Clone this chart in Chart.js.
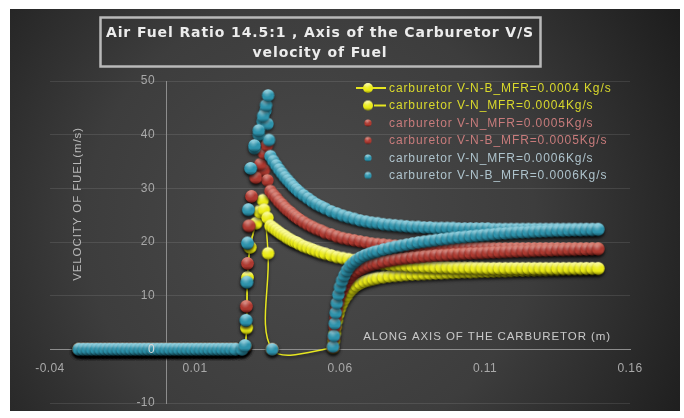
<!DOCTYPE html>
<html>
<head>
<meta charset="utf-8">
<script src="https://cdn.jsdelivr.net/npm/chart.js@4/dist/chart.umd.min.js"></script>
<style>
  html, body { margin: 0; padding: 0; background: #ffffff; }
  #wrap { width: 684px; height: 418px; }
</style>
</head>
<body>
<div id="wrap"><canvas id="chart" width="684" height="418"></canvas></div>
<script>
// ---- data: position along the carburetor axis (m) and fuel velocity (m/s) ----
const seriesNames = [
  'carburetor V-N-B_MFR=0.0004 Kg/s',
  'carburetor V-N_MFR=0.0004Kg/s',
  'carburetor V-N_MFR=0.0005Kg/s',
  'carburetor V-N-B_MFR=0.0005Kg/s',
  'carburetor V-N_MFR=0.0006Kg/s',
  'carburetor V-N-B_MFR=0.0006Kg/s'
];
const xTickLabels = ['-0.04', '0.01', '0.06', '0.11', '0.16'];
const yTickLabels = ['-10', '0', '10', '20', '30', '40', '50'];

// approach section upstream of the venturi (all runs at rest)
const approachX = [-0.030, -0.0285, -0.027, -0.0255, -0.024, -0.0225, -0.021, -0.0195, -0.018, -0.0165,
  -0.015, -0.0135, -0.012, -0.0105, -0.009, -0.0075, -0.006, -0.0045, -0.003, -0.0015,
  0, 0.0015, 0.003, 0.0045, 0.006, 0.0075, 0.009, 0.0105, 0.012, 0.0135,
  0.015, 0.0165, 0.018, 0.0195, 0.021, 0.0225, 0.024];
const approachV = [0, 0, 0, 0, 0, 0, 0, 0, 0, 0,
  0, 0, 0, 0, 0, 0, 0, 0, 0, 0,
  0, 0, 0, 0, 0, 0, 0, 0, 0, 0,
  0, 0, 0, 0, 0, 0, 0];

// jet / throat region
const yellowNBJetX = [0.0262, 0.0272, 0.0278, 0.0281, 0.0290, 0.0310, 0.0324, 0.0334, 0.0352, 0.0366];
const yellowNBJetV = [0, 0.5, 4.0, 13.4, 19.0, 23.5, 25.8, 27.8, 17.9, 0];
const yellowNJetX = [0.0262, 0.0272, 0.0278, 0.0281, 0.0290, 0.0310, 0.0324, 0.0338, 0.0350];
const yellowNJetV = [0, 0.5, 4.0, 13.4, 19.0, 23.5, 25.5, 26.0, 24.5];
const redNJetX = [0.0262, 0.0272, 0.0277, 0.0281, 0.0286, 0.0295, 0.0310, 0.0325, 0.0338, 0.0350];
const redNJetV = [0, 0.5, 8.0, 16.0, 23.0, 28.5, 32.0, 33.5, 33.4, 31.5];
const redNBJetX = [0.0262, 0.0272, 0.0277, 0.0281, 0.0286, 0.0295, 0.0310, 0.0325, 0.0338, 0.0348, 0.0366];
const redNBJetV = [0, 0.5, 8.0, 16.0, 23.0, 28.5, 32.0, 34.5, 36.5, 38.0, 0];
const tealNJetX = [0.0262, 0.0272, 0.0276, 0.0279, 0.0281, 0.0284, 0.0292, 0.0305, 0.0320, 0.0333, 0.0343, 0.0350, 0.0355];
const tealNJetV = [0, 0.7, 5.4, 12.5, 19.8, 26.0, 33.7, 37.5, 40.0, 42.5, 44.5, 42.0, 39.0];
const tealNBJetX = [0.0262, 0.0272, 0.0276, 0.0279, 0.0281, 0.0284, 0.0292, 0.0305, 0.0320, 0.0335, 0.0345, 0.0352, 0.0366];
const tealNBJetV = [0, 0.7, 5.4, 12.5, 19.8, 26.0, 33.7, 38.0, 40.8, 43.5, 45.5, 47.3, 0];

// V-N runs: decay downstream of the jet
const decayX = [0.036, 0.037, 0.038, 0.039, 0.040, 0.041, 0.042, 0.043, 0.044, 0.045, 0.046,
  0.0475, 0.049, 0.0505, 0.052, 0.0535, 0.055,
  0.057, 0.059, 0.061, 0.063, 0.065, 0.067, 0.069, 0.071, 0.073, 0.075,
  0.077, 0.079, 0.081, 0.083, 0.085, 0.087, 0.089, 0.091, 0.093, 0.095,
  0.097, 0.099, 0.101, 0.103, 0.105, 0.107, 0.109, 0.111, 0.113, 0.115,
  0.117, 0.119, 0.121, 0.123, 0.125, 0.127, 0.129, 0.131, 0.133, 0.135,
  0.137, 0.139, 0.141, 0.143, 0.145, 0.147, 0.149];
const yellowNDecayV = [23.0, 22.6, 22.2, 21.8, 21.4, 21.1, 20.7, 20.4, 20.1, 19.9, 19.6,
  19.2, 18.9, 18.6, 18.3, 18.0, 17.8,
  17.5, 17.2, 17.0, 16.8, 16.6, 16.4, 16.3, 16.1, 16.0, 15.9,
  15.8, 15.7, 15.7, 15.6, 15.5, 15.5, 15.4, 15.4, 15.3, 15.3,
  15.3, 15.2, 15.2, 15.2, 15.2, 15.15, 15.15, 15.1, 15.1, 15.1,
  15.1, 15.1, 15.1, 15.1, 15.1, 15.1, 15.1, 15.1, 15.1, 15.1,
  15.1, 15.1, 15.1, 15.1, 15.1, 15.1, 15.1];
const redNDecayV = [29.5, 28.8, 28.2, 27.5, 27.0, 26.4, 25.9, 25.5, 25.0, 24.6, 24.2,
  23.7, 23.2, 22.8, 22.4, 22.1, 21.7,
  21.4, 21.0, 20.7, 20.5, 20.3, 20.1, 19.9, 19.7, 19.6, 19.5,
  19.4, 19.3, 19.2, 19.2, 19.1, 19.1, 19.0, 19.0, 18.95, 18.95,
  18.9, 18.9, 18.9, 18.9, 18.85, 18.85, 18.85, 18.85, 18.8, 18.8,
  18.8, 18.8, 18.8, 18.8, 18.8, 18.8, 18.8, 18.8, 18.8, 18.8,
  18.8, 18.8, 18.8, 18.8, 18.8, 18.8, 18.8];
const tealNDecayV = [36.0, 35.1, 34.3, 33.5, 32.8, 32.1, 31.5, 30.9, 30.3, 29.8, 29.3,
  28.7, 28.1, 27.5, 27.0, 26.6, 26.2,
  25.7, 25.3, 24.9, 24.6, 24.3, 24.0, 23.8, 23.6, 23.5, 23.3,
  23.2, 23.1, 23.0, 22.9, 22.8, 22.8, 22.7, 22.7, 22.6, 22.6,
  22.6, 22.6, 22.5, 22.5, 22.5, 22.5, 22.5, 22.5, 22.4, 22.4,
  22.4, 22.4, 22.4, 22.4, 22.4, 22.4, 22.4, 22.4, 22.4, 22.4,
  22.4, 22.4, 22.4, 22.4, 22.4, 22.4, 22.4];

// V-N-B runs: recovery after the dead zone behind the jet
const recoverX = [0.0576, 0.0579, 0.0582, 0.0585, 0.0589, 0.0594, 0.0600, 0.0607, 0.0615, 0.0624,
  0.0634, 0.0645, 0.0657, 0.0670, 0.0685, 0.0700, 0.0715, 0.0730, 0.075, 0.077,
  0.079, 0.081, 0.083, 0.085, 0.087, 0.089, 0.091, 0.093, 0.095, 0.097,
  0.099, 0.101, 0.103, 0.105, 0.107, 0.109, 0.111, 0.113, 0.115, 0.117,
  0.119, 0.121, 0.123, 0.125, 0.127, 0.129, 0.131, 0.133, 0.135, 0.137,
  0.139, 0.141, 0.143, 0.145, 0.147, 0.149];
const yellowNBRecoverV = [0.3, 1.6, 3.0, 4.2, 5.4, 6.6, 7.7, 8.6, 9.4, 10.1,
  10.8, 11.4, 11.9, 12.3, 12.65, 12.9, 13.1, 13.3, 13.45, 13.6,
  13.7, 13.8, 13.9, 13.95, 14.0, 14.05, 14.1, 14.15, 14.2, 14.25,
  14.3, 14.35, 14.4, 14.4, 14.45, 14.5, 14.5, 14.55, 14.6, 14.6,
  14.65, 14.7, 14.7, 14.75, 14.75, 14.8, 14.8, 14.85, 14.85, 14.9,
  14.9, 14.95, 14.95, 15.0, 15.0, 15.0];
const redNBRecoverV = [0.4, 2.2, 4.2, 5.9, 7.4, 8.8, 10.0, 11.0, 11.9, 12.7,
  13.4, 14.0, 14.5, 14.9, 15.3, 15.6, 15.85, 16.05, 16.3, 16.5,
  16.7, 16.85, 17.0, 17.1, 17.2, 17.3, 17.4, 17.5, 17.55, 17.6,
  17.7, 17.75, 17.8, 17.85, 17.9, 17.95, 18.0, 18.05, 18.1, 18.15,
  18.2, 18.25, 18.3, 18.3, 18.35, 18.4, 18.4, 18.45, 18.5, 18.5,
  18.55, 18.55, 18.6, 18.6, 18.65, 18.65];
const tealNBRecoverV = [0.5, 2.5, 4.8, 6.8, 8.6, 10.2, 11.6, 12.8, 13.8, 14.7,
  15.5, 16.1, 16.6, 17.1, 17.5, 17.8, 18.1, 18.3, 18.6, 18.85,
  19.1, 19.3, 19.5, 19.7, 19.9, 20.05, 20.2, 20.35, 20.5, 20.6,
  20.75, 20.85, 20.95, 21.05, 21.15, 21.25, 21.35, 21.45, 21.55, 21.6,
  21.7, 21.75, 21.8, 21.85, 21.9, 21.95, 22.0, 22.05, 22.1, 22.1,
  22.15, 22.2, 22.2, 22.25, 22.25, 22.3];

// ---- helpers ----
function points(xs, vs) {
  return xs.map((x, i) => ({ x: x, y: vs[i] }));
}
function join() {
  let out = [];
  for (let i = 0; i < arguments.length; i += 2) out = out.concat(points(arguments[i], arguments[i + 1]));
  return out;
}

// shaded ball marker (lit from above), reused as a point style;
// overlapping balls read as a continuous tube
function makeBall(r, light, mid, dark) {
  const c = document.createElement('canvas');
  const s = Math.ceil(r * 2 + 2);
  c.width = s; c.height = s;
  const g = c.getContext('2d');
  const cx = s / 2, cy = s / 2;
  const lg = g.createLinearGradient(0, cy - r, 0, cy + r);
  lg.addColorStop(0, light);
  lg.addColorStop(0.38, mid);
  lg.addColorStop(0.72, mid);
  lg.addColorStop(1, dark);
  g.fillStyle = lg;
  g.beginPath(); g.arc(cx, cy, r, 0, Math.PI * 2); g.fill();
  const hx = cx - r * 0.2, hy = cy - r * 0.45;
  const rg = g.createRadialGradient(hx, hy, 0, hx, hy, r * 0.75);
  rg.addColorStop(0, 'rgba(255,255,255,0.35)');
  rg.addColorStop(1, 'rgba(255,255,255,0)');
  g.fillStyle = rg;
  g.beginPath(); g.arc(cx, cy, r, 0, Math.PI * 2); g.fill();
  return c;
}

const palette = {
  yellow: { light: '#ffffa8', mid: '#ecec18', dark: '#8f8f05', text: '#d9d92c', line: '#e6e620' },
  red:    { light: '#df7d6d', mid: '#ad3a31', dark: '#5e1812', text: '#c77b7b' },
  teal:   { light: '#8fd6e6', mid: '#2e93ac', dark: '#14505f', text: '#aec3cc' }
};
const balls = {};
const legendBalls = {};
Object.keys(palette).forEach(k => {
  const p = palette[k];
  balls[k] = makeBall(6.2, p.light, p.mid, p.dark);
  legendBalls[k] = makeBall(k === 'yellow' ? 5 : 3.6, p.light, p.mid, p.dark);
});

function series(label, colour, data, order, withLine) {
  return {
    label: label,
    data: data,
    order: order,
    showLine: !!withLine,
    borderColor: palette[colour].line || palette[colour].mid,
    borderWidth: 1.5,
    tension: 0.35,
    pointStyle: balls[colour],
    pointRadius: 6,
    colourKey: colour,
    withLine: !!withLine
  };
}

const datasets = [
  series(seriesNames[0], 'yellow', join(approachX, approachV, yellowNBJetX, yellowNBJetV, recoverX, yellowNBRecoverV), 5, true),
  series(seriesNames[1], 'yellow', join(approachX, approachV, yellowNJetX, yellowNJetV, decayX, yellowNDecayV), 4, true),
  series(seriesNames[2], 'red', join(approachX, approachV, redNJetX, redNJetV, decayX, redNDecayV), 3, false),
  series(seriesNames[3], 'red', join(approachX, approachV, redNBJetX, redNBJetV, recoverX, redNBRecoverV), 2, false),
  series(seriesNames[4], 'teal', join(approachX, approachV, tealNJetX, tealNJetV, decayX, tealNDecayV), 1, false),
  series(seriesNames[5], 'teal', join(approachX, approachV, tealNBJetX, tealNBJetV, recoverX, tealNBRecoverV), 0, false)
];

// ---- plugins ----
const backdrop = {
  id: 'backdrop',
  beforeDraw(chart) {
    const ctx = chart.ctx;
    ctx.save();
    ctx.fillStyle = '#ffffff';
    ctx.fillRect(0, 0, chart.width, chart.height);
    const g = ctx.createRadialGradient(310, 225, 10, 310, 225, 440);
    g.addColorStop(0, '#4a4a4a');
    g.addColorStop(0.5, '#3d3d3d');
    g.addColorStop(1, '#1b1b1b');
    ctx.fillStyle = g;
    ctx.fillRect(10, 9, 670, 402);
    ctx.restore();
  }
};

// soft drop shadow under every series
const tubeShadow = {
  id: 'tubeShadow',
  beforeDatasetDraw(chart) {
    const ctx = chart.ctx;
    ctx.save();
    ctx.shadowColor = 'rgba(0,0,0,0.55)';
    ctx.shadowBlur = 3;
    ctx.shadowOffsetX = 0;
    ctx.shadowOffsetY = 2;
  },
  afterDatasetDraw(chart) {
    chart.ctx.restore();
  }
};

const titleBox = {
  id: 'titleBox',
  afterDraw(chart) {
    const ctx = chart.ctx;
    ctx.save();
    ctx.strokeStyle = '#b9b9b9';
    ctx.lineWidth = 2.5;
    ctx.strokeRect(100.5, 17.5, 440, 49);
    ctx.fillStyle = '#ececec';
    ctx.font = 'bold 14px "DejaVu Sans"';
    ctx.letterSpacing = '0.9px';
    ctx.textAlign = 'center';
    ctx.textBaseline = 'middle';
    ctx.fillText('Air Fuel Ratio 14.5:1 , Axis of the Carburetor V/S', 320, 33);
    ctx.fillText('velocity of Fuel', 320, 53);
    ctx.restore();
  }
};

const axisText = {
  id: 'axisText',
  afterDatasetsDraw(chart) {
    const { ctx, scales: { x, y } } = chart;
    const x0 = x.getPixelForValue(0);
    const y0 = y.getPixelForValue(0);
    ctx.save();
    ctx.font = '12px "Liberation Sans"';
    ctx.letterSpacing = '0.4px';
    ctx.textAlign = 'right';
    ctx.textBaseline = 'middle';
    y.ticks.forEach((t, i) => {
      ctx.fillStyle = t.value === 0 ? '#d8d8d8' : '#a9a9a9';
      ctx.fillText(yTickLabels[i], x0 - 11, y.getPixelForValue(t.value));
    });
    ctx.fillStyle = '#a9a9a9';
    ctx.textAlign = 'center';
    ctx.textBaseline = 'top';
    x.ticks.forEach((t, i) => {
      ctx.fillText(xTickLabels[i], x.getPixelForValue(t.value), y0 + 13);
    });
    // axis titles
    ctx.fillStyle = '#c9c9c9';
    ctx.font = '11.5px "Liberation Sans"';
    ctx.letterSpacing = '0.9px';
    ctx.textAlign = 'center';
    ctx.textBaseline = 'middle';
    ctx.fillText('ALONG AXIS OF THE CARBURETOR (m)', 487, 337);
    ctx.translate(78, 204);
    ctx.rotate(-Math.PI / 2);
    ctx.fillStyle = '#b8b8b8';
    ctx.font = '11.5px "Liberation Sans"';
    ctx.letterSpacing = '0.9px';
    ctx.fillText('VELOCITY OF FUEL(m/s)', 0, 0);
    ctx.restore();
  }
};

const seriesKey = {
  id: 'seriesKey',
  afterDraw(chart) {
    const ctx = chart.ctx;
    const rows = [88, 105.5, 123, 140.5, 158, 175.5];
    ctx.save();
    ctx.font = '12px "Liberation Sans"';
    ctx.letterSpacing = '0.9px';
    ctx.textAlign = 'left';
    ctx.textBaseline = 'middle';
    chart.data.datasets.forEach((ds, i) => {
      const p = palette[ds.colourKey];
      const yy = rows[i];
      if (ds.withLine) {
        ctx.strokeStyle = p.line;
        ctx.lineWidth = 2;
        ctx.beginPath();
        ctx.moveTo(i === 0 ? 356 : 374, yy);
        ctx.lineTo(386, yy);
        ctx.stroke();
      }
      const b = legendBalls[ds.colourKey];
      ctx.drawImage(b, 368 - b.width / 2, yy - b.height / 2);
      ctx.fillStyle = p.text;
      ctx.fillText(ds.label, 389, yy + 0.5);
    });
    ctx.restore();
  }
};

new Chart(document.getElementById('chart'), {
  type: 'scatter',
  data: { datasets: datasets },
  options: {
    responsive: false,
    animation: false,
    events: [],
    layout: { padding: { left: 50, right: 54, top: 81, bottom: 15 } },
    scales: {
      x: {
        type: 'linear',
        position: { y: 0 },
        min: -0.04,
        max: 0.16,
        ticks: { stepSize: 0.05, display: false },
        grid: { display: false },
        border: { display: true, color: '#8d8d8d', width: 1 }
      },
      y: {
        type: 'linear',
        position: { x: 0 },
        min: -10,
        max: 50,
        ticks: { stepSize: 10, display: false },
        grid: { color: 'rgba(255,255,255,0.10)', drawTicks: false },
        border: { display: true, color: '#8d8d8d', width: 1 }
      }
    },
    plugins: {
      legend: { display: false },
      title: { display: false },
      tooltip: { enabled: false }
    }
  },
  plugins: [backdrop, tubeShadow, titleBox, axisText, seriesKey]
});
</script>
</body>
</html>
